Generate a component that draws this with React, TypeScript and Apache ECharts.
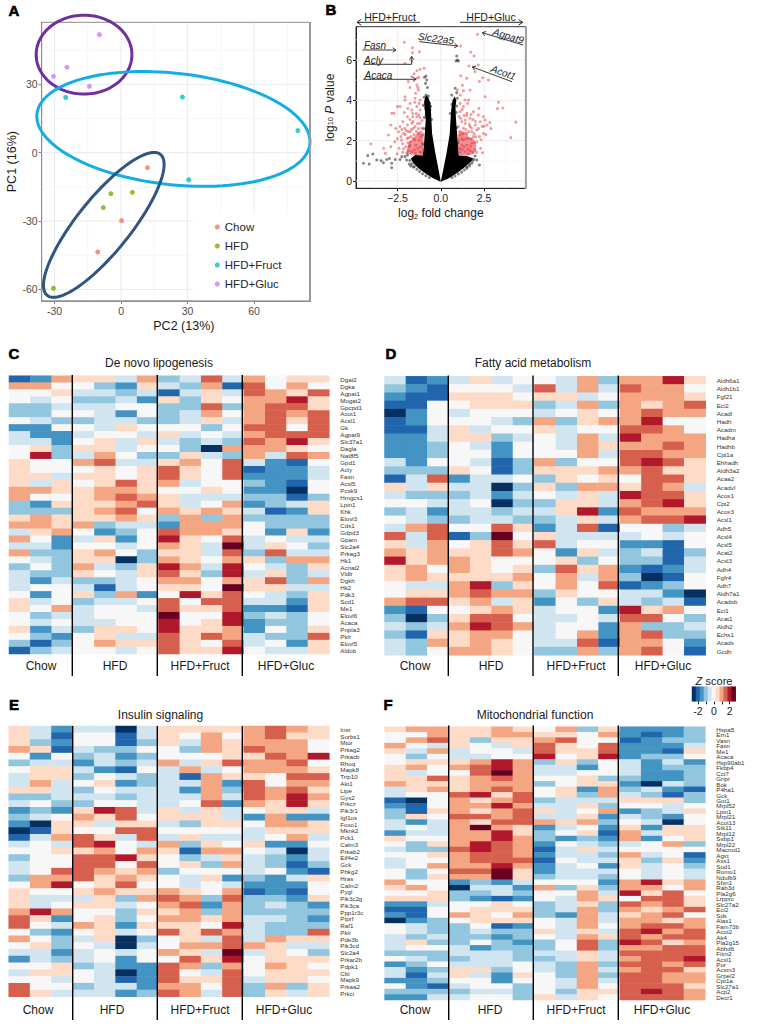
import React, { useEffect, useRef } from "react";
import * as echarts from "echarts";

const FONT = "'Liberation Sans', Arial, sans-serif";

// ---------- Panel A: PCA ----------
const pcaChow = [[11.9, -6.6], [0.2, -29.8], [-10.5, -43.6]];
const pcaHfd = [[-4.6, -18], [5.1, -17.4], [-8, -24.1], [-30.5, -59.5]];
const pcaFruct = [[-25, 24.2], [27.7, 24.4], [79.7, 9.7], [30.5, -11.9]];
const pcaGluc = [[-9.8, 51.8], [-24.4, 37.5], [-30.5, 33.5], [-14.3, 29.1]];
// cx, cy, rx, ry, correlation
const ellipsePurple = [-16.7, 43, 21.6, 17.3, 0];
const ellipseCyan = [23.6, 10.4, 61.6, 25.2, -0.22];
const ellipseNavy = [-7.8, -31.7, 27.2, 31.8, 0.834];
const pcaXTicks = [-30, 0, 30, 60];
const pcaYTicks = [-60, -30, 0, 30];
const pcaXMinor = [-15, 15, 45, 75];
const pcaYMinor = [-45, -15, 15, 45];

// ---------- Panel B: volcano ----------
const volcanoLeftArm = [[0, -0.03], [-0.42, 0.13], [-0.9, 0.38], [-1.29, 0.63], [-1.58, 0.88], [-1.73, 1.12], [-1.48, 1.29], [-1.04, 1.27], [-0.98, 1.7], [-0.92, 2.36], [-0.87, 3.02], [-0.92, 3.52], [-0.96, 3.95], [-0.86, 4.25], [-0.72, 4.15], [-0.6, 3.85], [-0.56, 3.36], [-0.5, 2.36], [-0.31, 1.37], [-0.12, 0.55]];
const volcanoRightArm = [[0, -0.03], [0.44, 0.13], [0.92, 0.38], [1.31, 0.63], [1.73, 0.96], [1.88, 1.12], [1.5, 1.24], [1.04, 1.27], [1.0, 1.7], [0.94, 2.36], [0.87, 3.19], [0.85, 3.69], [0.9, 4.0], [0.8, 4.2], [0.68, 4.0], [0.6, 3.5], [0.56, 3.0], [0.52, 2.36], [0.33, 1.37], [0.14, 0.55]];
const redPatchLeft = [[-1.98, 1.36], [-1.7, 1.3], [-1.35, 1.29], [-1.04, 1.27], [-1.0, 1.9], [-0.98, 2.35], [-1.15, 2.5], [-1.4, 2.35], [-1.6, 2.1], [-1.85, 1.9], [-1.95, 1.6]];
const redPatchRight = [[1.04, 1.27], [1.4, 1.26], [1.75, 1.3], [2.0, 1.42], [2.05, 1.8], [1.9, 2.1], [1.65, 2.15], [1.45, 2.4], [1.15, 2.5], [0.98, 2.3], [1.0, 1.7]];
const volcanoBlack = [[-0.85, 5.21], [-0.94, 5.14], [-0.81, 5.01], [-0.88, 4.84], [-0.77, 4.64], [-0.85, 4.26], [-0.71, 4.21], [-0.96, 4.15], [-0.77, 4.02], [-0.65, 3.85], [-0.9, 3.85], [-0.62, 3.52], [-0.88, 3.6], [-0.85, 3.27], [-4.46, 0.88], [-4.13, 0.84], [-4.21, 1.26], [-3.92, 1.34], [-3.69, 1.04], [-3.44, 1.01], [-3.31, 0.91], [-3.12, 1.07], [-2.96, 1.12], [-2.83, 0.66], [-2.83, 0.88], [-2.63, 1.07], [-2.35, 1.07], [-2.25, 1.21], [-2.06, 1.21], [-1.96, 1.04], [-1.81, 0.84], [-1.92, 1.29], [-1.73, 0.74], [-1.58, 0.68], [0.92, 6.2], [0.96, 6.0], [1.02, 5.95], [0.88, 5.95], [0.83, 4.6], [0.63, 4.26], [0.92, 4.38], [0.96, 4.1], [0.77, 3.82], [0.92, 3.72], [0.69, 3.52], [1.92, 1.07], [2.08, 1.04], [2.23, 0.79], [1.79, 0.88], [1.65, 0.74], [1.5, 0.63], [1.98, 1.24], [-1.78, 1.02], [-1.66, 0.85], [-1.52, 0.72], [-1.38, 0.58], [-1.22, 0.47], [-1.05, 0.36], [-0.86, 0.26], [-0.66, 0.17], [1.82, 1.0], [1.66, 0.83], [1.5, 0.7], [1.36, 0.55], [1.2, 0.44], [1.02, 0.35], [0.82, 0.25], [0.64, 0.17], [-1.02, 1.82], [-0.98, 2.6], [-0.95, 3.15], [-1.0, 3.75], [-0.53, 3.05], [-0.58, 3.7], [0.98, 1.9], [0.93, 2.65], [0.9, 3.4], [0.55, 3.35], [0.64, 3.8]];
const volcanoRedLeft = [[-2.1, 6.88], [-1.63, 6.61], [-1.23, 6.41], [-1.63, 6.36], [-2.06, 5.83], [-1.67, 5.95], [-1.19, 5.54], [-0.96, 5.59], [-1.27, 5.14], [-1.38, 5.47], [-1.38, 5.09], [-1.54, 5.31], [-1.67, 5.17], [-1.87, 4.93], [-1.38, 4.76], [-1.33, 4.64], [-1.29, 4.51], [-1.77, 4.64], [-2.06, 4.18], [-2.06, 4.02], [-1.19, 4.02], [-1.48, 4.1], [-1.77, 3.85], [-2.35, 3.69], [-2.5, 3.69], [-2.69, 3.36], [-2.83, 3.36], [-1.67, 3.52], [-1.38, 3.69], [-1.19, 3.52], [-1.92, 3.19], [-1.62, 3.19], [-1.38, 3.19], [-1.27, 3.27], [-2.19, 2.94], [-1.67, 2.86], [-1.19, 2.86], [-2.88, 2.78], [-2.35, 2.7], [-1.92, 2.78], [-1.48, 2.7], [-1.1, 2.62], [-3.02, 2.28], [-2.44, 2.44], [-2.15, 2.36], [-1.77, 2.44], [-1.29, 2.36], [-1.04, 2.28], [-4.04, 1.84], [-2.65, 1.95], [-2.27, 2.03], [-1.94, 2.11], [-1.6, 2.11], [-1.25, 2.03], [-3.29, 1.62], [-2.88, 1.7], [-2.4, 1.62], [-2.02, 1.7], [-1.77, 1.79], [-1.44, 1.79], [-1.15, 1.7], [-3.19, 1.37], [-2.52, 1.35], [-2.19, 1.42], [-1.85, 1.5], [-1.52, 1.55], [-1.21, 1.45], [-2.0, 2.5], [-1.7, 2.55], [-1.55, 2.3], [-2.2, 1.85], [-1.9, 1.9], [-2.6, 2.6], [-2.1, 3.4], [-1.5, 3.9], [-1.2, 3.15], [-1.45, 4.35], [-1.6, 2.95], [-1.75, 1.95], [-1.4, 2.45], [-2.3, 2.2], [-1.85, 2.15], [-2.15, 1.6], [-2.05, 2.3], [-1.96, 1.4], [-1.88, 2.45], [-1.82, 1.7], [-1.72, 2.2], [-1.66, 1.45], [-1.58, 2.62], [-1.5, 2.05], [-1.46, 1.38], [-1.34, 2.85], [-1.32, 1.62], [-1.3, 2.6], [-1.16, 2.2], [-1.12, 1.4], [-1.08, 3.0], [-2.08, 2.62], [-2.25, 2.55], [-2.5, 2.1], [-1.62, 3.35], [-1.78, 3.05], [-1.9, 3.6], [-1.42, 3.35], [-1.25, 3.85], [-1.02, 1.55], [-1.08, 1.9]];
const volcanoRedRight = [[2.12, 7.27], [1.15, 6.69], [1.73, 6.38], [1.92, 6.2], [1.63, 5.7], [2.17, 5.75], [1.98, 5.42], [1.15, 5.22], [1.5, 5.09], [2.75, 5.01], [2.42, 5.12], [2.23, 4.93], [0.96, 4.51], [1.69, 4.51], [1.31, 4.48], [1.12, 4.26], [2.56, 4.18], [1.4, 4.02], [1.6, 4.02], [1.12, 3.85], [1.31, 3.69], [3.33, 3.9], [3.58, 3.62], [3.27, 3.59], [1.88, 3.44], [1.5, 3.36], [1.12, 3.44], [2.17, 3.27], [2.46, 3.19], [1.69, 3.11], [1.4, 3.02], [1.21, 2.94], [4.33, 2.92], [2.83, 2.9], [2.56, 3.02], [2.27, 2.94], [1.98, 2.78], [1.69, 2.7], [1.31, 2.62], [1.02, 2.7], [2.67, 2.78], [2.38, 2.7], [2.08, 2.53], [1.79, 2.44], [1.5, 2.36], [1.12, 2.28], [4.04, 2.15], [2.46, 2.36], [2.23, 2.2], [1.88, 2.2], [1.6, 2.11], [1.31, 2.03], [1.02, 2.03], [2.08, 1.95], [1.79, 1.87], [1.5, 1.79], [1.21, 1.79], [2.3, 1.62], [1.98, 1.55], [1.7, 1.5], [1.4, 1.45], [1.12, 1.42], [2.4, 1.4], [2.6, 2.3], [2.9, 2.6], [1.85, 3.05], [1.55, 3.85], [1.25, 4.75], [1.75, 2.1], [1.45, 2.55], [2.0, 2.95], [1.35, 3.25], [1.6, 1.35], [2.2, 3.6], [1.95, 1.9], [1.65, 2.8], [1.25, 1.55], [1.15, 3.1], [2.08, 1.42], [1.92, 2.35], [1.84, 1.42], [1.78, 2.62], [1.72, 1.72], [1.62, 2.45], [1.56, 1.58], [1.46, 2.1], [1.42, 2.85], [1.34, 1.7], [1.28, 2.35], [1.2, 2.1], [1.12, 1.6], [1.06, 3.2], [1.02, 1.62], [2.18, 2.6], [2.02, 2.2], [2.32, 2.05], [2.5, 2.72], [1.75, 3.3], [1.24, 3.55], [1.5, 3.25], [1.08, 2.45]];
const volcanoXTicks = [-2.5, 0, 2.5];
const volcanoYTicks = [0, 2, 4, 6];
const volcanoXMinor = [-3.75, -1.25, 1.25, 3.75];
const volcanoYMinor = [1, 3, 5, 7];

// ---------- Heat maps (z score bins, 1 bin = 0.5) ----------
const zLevels = [-5, -4, -3, -2, -1, 0, 1, 2, 3, 4, 5];
const zColors = ["#053061", "#2166ac", "#4393c3", "#92c5de", "#d1e5f0", "#f7f7f7", "#fddbc7", "#f4a582", "#d6604d", "#b2182b", "#67001f"];
const sampleColumns = ["Chow1", "Chow2", "Chow3", "HFD1", "HFD2", "HFD3", "HFD4", "Fruct1", "Fruct2", "Fruct3", "Fruct4", "Gluc1", "Gluc2", "Gluc3", "Gluc4"];

const genesC = ["Dgat2", "Dgka", "Agpat1", "Mogat2", "Gpcpd1", "Acot1", "Acsl1", "Gk", "Agpat9", "Slc37a1", "Dagla", "Nat8f5", "Gpd1", "Acly", "Fasn", "Acsl5", "Pcsk9", "Hmgcs1", "Lpin1", "Khk", "Elovl3", "Cds1", "Gdpd3", "Gpam", "Slc2a4", "Prkag3", "Hk1", "Acnat2", "Vldlr", "Dgkh", "Hk2", "Pdk3", "Scd1", "Me1", "Elovl6", "Acaca", "Pnpla3", "Pklr", "Elovl5", "Aldob"];
const lipogenesis = [
  [-4, -3, 2, 1, 1, -1, 2, -2, -1, 3, -1, 2, 0, 1, 1],
  [2, 2, 0, 0, -2, -3, 1, -1, -2, 2, -4, 3, 0, 2, 0],
  [0, 0, 1, -1, -1, -2, -1, -4, -1, 1, -1, 3, 2, 1, 3],
  [0, -1, 0, -2, -2, -1, -3, 1, -2, 1, 0, 2, 2, 4, 1],
  [-2, -2, -1, -1, -1, 0, 0, -2, -2, 3, -2, 2, 3, 3, 1],
  [-2, -2, 0, 0, -1, -3, 0, -2, -1, 2, 0, 2, 3, 2, 3],
  [0, -1, -2, -2, -1, -1, -2, -2, -1, 1, -1, 2, 3, 1, 3],
  [-3, -3, 0, 0, -1, 1, 0, 0, 0, -2, 0, 3, 3, 0, 3],
  [-1, -3, -3, -1, 0, 0, -1, 1, -1, 0, -1, 2, 3, 3, 3],
  [-1, -1, -3, 0, 1, -1, 1, -1, -2, -1, -2, 3, 2, 4, 1],
  [0, 1, -2, 1, 1, -1, 0, 0, -2, -5, 2, 2, 2, 1, 0],
  [0, 4, -2, -1, 2, 0, -2, -2, 1, -1, -2, 2, -1, 3, 2],
  [1, 0, 0, 2, 3, -1, -1, 1, 2, 0, 3, -1, -3, -4, 0],
  [1, 0, 0, 0, 1, 0, 1, 3, 1, 0, 3, -4, -3, -3, -1],
  [1, 1, -1, 1, 1, 0, 1, 3, 1, 0, 3, -3, -3, -3, -1],
  [1, -1, 1, 0, 1, 3, 1, 2, -1, 0, 0, -2, -3, -4, 0],
  [2, 2, 1, 1, 2, 2, 1, 0, 0, 1, 0, -3, -3, -5, 0],
  [2, 0, 0, 1, 2, 3, 2, 1, -1, -1, -1, -2, -2, -4, -2],
  [-2, -3, 1, 1, 1, 2, 3, 1, -1, 0, 2, -3, -2, -1, 1],
  [-2, -2, -2, 1, 2, 3, 0, 2, 1, 2, 1, -1, -4, -3, 1],
  [1, 2, 1, 1, 1, 2, 1, -2, 2, -2, 2, -2, -2, -2, -2],
  [2, 2, 1, 2, -2, -1, -1, -3, 2, 2, 2, 0, -2, -2, -2],
  [-1, 1, 2, 0, -3, -2, 0, 3, 2, 2, 1, 0, -3, 1, -3],
  [2, 0, -3, -1, 1, -3, 0, 4, 1, 0, 3, -1, 0, -1, -1],
  [-1, -1, -3, 0, 0, -1, 0, 2, 1, -1, 5, -1, 1, 0, -2],
  [2, -2, -2, 1, 2, 0, -2, 1, 1, -1, 3, -2, 3, -1, -1],
  [0, -1, -2, 1, 1, -5, -2, 2, 1, 0, 2, 1, -2, 2, 2],
  [-2, 0, -2, 2, -1, -2, 1, 4, 2, -1, 4, 0, -1, -2, 1],
  [-1, -2, -2, 1, 0, -1, 1, 3, 1, -2, 4, -1, 1, -2, -1],
  [-1, -3, -1, -2, -2, -1, 0, 2, 2, 0, 2, 1, 3, -2, 2],
  [-1, 0, 0, -1, -4, -1, 0, 1, 1, 0, 5, 1, 1, -1, -1],
  [0, -3, 0, 1, -2, 2, -3, 0, 4, 1, 3, 0, -1, -2, 1],
  [1, -1, 0, -2, -1, -1, 0, 3, 0, 3, 3, -1, -1, -3, 1],
  [1, 0, 2, -1, 0, 0, -1, 3, 1, 1, 3, -3, -3, -4, 1],
  [0, -2, -1, -1, 0, 0, 0, 5, 0, 0, 4, -2, -1, -2, 0],
  [0, -1, 0, -1, -1, 0, 0, 4, 0, 1, 4, -3, -2, -2, 0],
  [1, -3, -1, -2, 1, 1, 0, 4, 1, 1, 2, -3, 0, -2, 1],
  [0, -2, -3, 0, 1, -1, -1, 3, 1, 3, 2, -1, -2, -2, 3],
  [-2, -4, -2, 0, 2, 1, 1, 3, 1, 0, 3, -1, 0, -3, 1],
  [-4, -2, -1, 0, 0, -1, 0, 3, 1, 1, 4, 0, -1, -1, 1],
];

const genesD = ["Aldh6a1", "Aldh1b1", "Fgf21", "Eci2", "Acadl", "Hadh", "Acadm", "Hadha", "Hadhb", "Cpt1a", "Ehhadh", "Aldh3a2", "Acaa2", "Acadvl", "Acox1", "Cpt2", "Acox3", "Acsl1", "Adh5", "Acsl4", "Acsl5", "Acat2", "Acsl3", "Adh4", "Fgfr4", "Adh7", "Aldh7a1", "Acadsb", "Eci1", "Acat1", "Aldh2", "Echs1", "Acads", "Gcdh"];
const fattyAcid = [
  [-1, -4, -3, -1, 1, -1, 0, 0, -1, 2, -2, 2, 2, 4, 1],
  [-2, -3, -4, 0, 0, 0, -1, 3, -1, 2, -1, 3, 2, 2, 0],
  [-3, -4, -4, 1, 1, 1, 0, 1, 1, -1, 0, 2, 2, 2, 1],
  [-4, -4, 0, 0, 1, 1, 1, -2, -1, 2, -2, 2, 1, 2, 3],
  [-5, -3, 0, -1, 0, 0, 0, -1, 0, 1, 0, 2, 3, 2, 2],
  [-4, -3, 0, 0, 0, -1, -2, 2, -2, 1, 2, 2, 4, 0, 0],
  [-4, -4, -1, 1, -1, 0, 0, 1, -1, 0, 0, 3, 3, 2, 0],
  [-3, -3, -1, 1, 1, -2, -1, 0, -1, 2, -1, 4, 2, 2, 2],
  [-3, -3, -2, 0, -1, -3, 0, 0, -1, 2, 1, 2, 2, 3, 2],
  [-3, -3, -2, 0, 0, -3, 0, 0, 0, 2, -1, 3, 3, 2, 2],
  [-1, -3, 0, 0, -1, -4, -2, 2, -2, 0, 0, 3, 4, 3, 1],
  [-2, -2, -2, 1, 0, -4, -2, 1, 1, 1, 2, 2, 3, 1, 1],
  [-4, -1, 3, -3, -1, -1, 0, -2, 1, 0, 1, 0, 3, 3, 1],
  [1, -1, 1, -1, -1, -5, -2, 1, -2, 2, 2, 1, 3, 2, -1],
  [-1, -2, -2, -2, -1, -3, -1, 0, -1, 1, -1, 4, 3, 3, 1],
  [0, 0, -1, -1, 0, -5, -2, -2, 1, 1, -1, 2, 3, 4, 1],
  [-2, -1, -3, -1, -1, -2, -1, -1, 1, 4, -3, 3, 2, 2, 2],
  [0, -1, -2, -2, -1, -1, -2, -2, -1, 1, -1, 2, 3, 3, 4],
  [-1, 2, 3, 0, 0, 3, 1, -3, -1, 3, -4, 0, 0, -2, -1],
  [3, -1, 3, -4, -2, 5, 0, 1, -1, -1, -1, -1, 0, -1, 0],
  [1, -1, 2, 0, 1, 3, 1, 3, -1, 0, 0, -3, -3, -4, 0],
  [2, 1, 2, 1, 1, 3, 2, 0, -3, 1, -1, -2, -1, -4, -2],
  [4, 1, 2, 2, 1, 0, 0, 0, 1, -2, 0, -2, -2, -4, -1],
  [1, 2, 0, 2, 1, 0, 1, -2, 3, 1, 2, -3, -4, -3, -1],
  [1, 2, 1, 1, 1, 1, 2, 0, 2, -1, 2, -2, -5, -4, 0],
  [0, -1, -1, 2, 4, -2, 1, 0, 2, 0, 3, -4, -3, -2, 0],
  [0, 1, 1, 2, 3, 2, 2, -2, 1, 0, 0, -1, -1, -3, -5],
  [2, 3, 3, 1, 2, -1, 1, -3, 0, -2, 1, -1, -2, -1, -4],
  [-3, -4, 0, 0, 1, 2, 1, -1, 0, 0, -3, 4, 1, 2, 0],
  [-2, -5, -2, 1, 3, 3, 0, -1, -1, 0, -1, 3, 3, 0, -2],
  [-1, -2, -1, 2, 4, 3, 2, -1, 0, 0, -3, 2, -2, -2, -1],
  [-2, -4, 1, 1, 2, 2, 0, -1, 0, 2, -3, 2, 3, -2, -2],
  [-1, -2, 2, 1, 2, 1, 0, -1, -1, 3, -4, 2, 2, 0, -3],
  [-1, -2, 0, 2, 2, 1, 0, -2, -2, 2, -2, 2, 3, 0, -4],
];

const genesE = ["Insr", "Sorbs1", "Mtor", "Prkag2", "Prkacb", "Rhoq", "Mapk8", "Trip10", "Akt1", "Lipe", "Gys2", "Prkcz", "Pik3r1", "Igf1os", "Foxo1", "Mknk2", "Pck1", "Calm3", "Prkab2", "Eif4e2", "Gck", "Phkg2", "Hras", "Calm2", "Pygl", "Pik3c2g", "Pik3ca", "Ppp1r3c", "Ptprf", "Raf1", "Pklr", "Pde3b", "Pik3cd", "Slc2a4", "Prkar2b", "Pdpk1", "Cbl", "Mapk9", "Prkaa2", "Prkci"];
const insulin = [
  [1, -1, -3, -1, -1, -5, -1, 1, 1, 1, 1, 2, 3, 2, 1],
  [1, -1, -4, 0, 0, -4, -1, 1, 0, 2, 0, 2, 3, 1, 1],
  [1, -2, -3, 0, 0, -4, -2, 1, -1, 2, 1, 2, 2, 2, 0],
  [2, 1, -4, -1, -2, -2, 0, 0, -2, 2, 1, 3, 2, 2, 0],
  [0, -3, 0, -2, -1, -3, -2, 0, 0, 0, 1, 1, 3, 2, 4],
  [-2, -1, -1, -3, -1, -2, -1, 2, -1, 1, 3, 2, 2, 3, 0],
  [0, 1, 1, -1, -3, -4, 0, -1, 2, -1, 0, 2, 2, 2, 1],
  [-1, 1, 1, -2, 0, -1, -2, -1, -4, 2, 1, 1, 0, 3, 3],
  [-1, 2, -1, 0, 1, -3, -2, -1, -1, 2, -3, 3, 0, 2, 2],
  [1, 1, -1, -2, 0, -1, -1, -1, -3, 2, -2, 3, 2, 3, 1],
  [-2, -2, -1, -1, -1, -2, -1, -1, -1, 2, -1, 3, 2, 4, 2],
  [-1, 0, -2, -2, 0, 0, -1, -1, 0, 3, -3, 2, 1, 4, 1],
  [-3, -2, -3, 1, 4, 3, -1, 1, -1, 1, -1, 0, 1, 1, -1],
  [-2, -1, 0, 2, 1, 3, 0, 1, 1, 1, -1, -3, 2, -3, -3],
  [-3, -5, 1, 1, -1, 1, 1, -1, -2, 1, 1, 0, 2, 2, 1],
  [-5, -4, 1, 0, 0, 3, 3, 0, 0, 0, 0, -1, 1, 1, 1],
  [-4, -1, 2, 3, 1, -1, 3, -1, 1, -1, -1, -1, 0, 2, -1],
  [-1, 0, -1, 3, 4, 0, -1, 2, -2, 1, 0, 1, -3, -3, 0],
  [0, 0, 1, 1, 2, 0, 2, 1, -4, 2, 2, 0, -1, -5, -1],
  [-2, 0, 0, 3, 3, 4, 1, 0, -2, -1, 1, -1, -2, -3, -1],
  [-1, 0, 0, 3, 3, 0, 3, 0, 1, -2, 2, -1, -2, -4, -2],
  [-1, 0, 3, 3, 2, 1, 2, -2, 0, 0, 0, -1, 0, -3, -4],
  [-2, 2, 2, 3, 1, 2, 1, 0, -1, 1, -3, -2, -3, -1, 1],
  [0, 2, 4, 0, 1, 3, 0, 0, -1, 0, -1, -3, -3, -3, 0],
  [1, 0, 0, 1, 2, 1, 1, 2, 1, 0, 2, -4, -3, -4, 0],
  [1, -1, -1, -1, 1, -2, 2, 3, 2, -2, 3, -2, -2, -3, 1],
  [1, -1, 0, 1, 1, -1, 0, 2, 3, -3, 2, -2, -1, -2, -3],
  [2, 4, 2, 0, 0, -2, 1, 1, 2, -2, 2, -2, -2, -2, -2],
  [3, 1, -3, 0, 1, -2, 0, 2, 2, 1, 2, -1, -1, -2, -3],
  [3, 0, -1, 2, 1, -3, 1, 1, 1, 0, 4, -1, -2, -2, -2],
  [0, -2, -3, 0, 1, -1, 0, 3, 1, 3, 2, -1, -2, -2, 3],
  [2, 0, -2, -1, 1, -5, -2, 0, 1, -1, 3, -1, 2, 1, 1],
  [0, 1, -2, 0, -1, -5, -1, 0, 2, 2, 3, 2, 1, -1, -1],
  [-1, -1, -3, -1, 0, -1, 0, 2, 1, -1, 5, -1, 1, 0, -2],
  [-3, -1, -2, -1, 0, -3, 0, 0, 3, 1, 4, 0, 1, 1, 1],
  [0, 0, 1, -2, -1, -3, -3, 3, 2, -2, 2, 0, 2, 1, 0],
  [-1, 1, 1, 0, -1, -5, -3, 3, 0, -1, 3, 0, 1, 1, 1],
  [0, 0, -1, 0, -1, -4, -3, 3, 1, 1, 3, -1, 1, 1, 0],
  [3, 0, 0, -2, -1, -1, -3, 2, 2, 0, 3, -2, 2, -2, 1],
  [3, 1, -1, -1, -1, -3, -2, 3, 2, -1, 3, -2, 1, -1, 1],
];

const genesF = ["Hspa5", "Ern1", "Vasn", "Fasn", "Me1", "Acaca", "Hsp90ab1", "Fkbp4", "Cct7", "Gripr", "Bok", "P4ha1", "Gck", "Got1", "Mrpl52", "Lpin1", "Mrpl21", "Acot13", "Stk11", "Mrpl12", "Ssbp1", "Mrpl22", "Macrod1", "Agxt", "Ass1", "Sod1", "Romo1", "Ndufb9", "Sfxn1", "Rab3d", "Pla2g6", "Lrpprc", "Slc27a2", "Eci2", "Sds", "Alas1", "Fam73b", "Acot2", "Ak4", "Pla2g15", "Abhd6", "Fitm2", "Acsl1", "Por", "Acsm3", "Grpel2", "Cpt1a", "Slc27a1", "Acp2", "Decr1"];
const mitochondrial = [
  [1, 2, 2, 1, 1, 2, 1, 0, 2, -2, 1, -3, -3, -3, -2],
  [0, 0, 2, 1, 1, 2, 2, 1, 1, 0, 2, -3, -4, -3, -2],
  [0, 2, 3, 1, -2, 1, 1, 2, 3, 0, 0, -4, -3, -2, -2],
  [2, 0, -1, 1, 0, -1, 1, 3, 1, 0, 3, -3, -3, -3, -1],
  [1, -1, 2, -1, 0, 0, -1, 3, 1, 1, 3, -3, -3, -4, 1],
  [0, -2, 0, -1, -1, 0, 0, 4, 0, 1, 4, -3, -2, -2, 0],
  [0, 1, 1, 1, 2, 4, 2, -2, 1, -2, 0, -1, -3, -1, -3],
  [1, 2, 0, 2, 3, 4, 2, -1, -1, -3, 0, -1, -3, -2, -2],
  [1, -1, 0, 0, 3, 5, 2, -1, -1, 0, 0, -1, -3, -3, -2],
  [1, 1, 3, 1, 2, 3, 2, 0, 0, 1, -2, -2, -3, -3, -2],
  [2, 1, 1, 1, 2, 2, 2, -2, 0, 1, 1, -3, -5, -1, -2],
  [-1, 1, 2, 1, 2, 3, 2, 0, 1, -3, 2, -2, -1, -3, -4],
  [-1, 0, 0, 3, 4, 1, 3, 0, 1, -2, 2, -1, -2, -4, -2],
  [-4, -5, 0, 2, 1, 2, 3, -2, -1, -1, -1, 1, 1, 1, -2],
  [-3, -4, 0, 2, 2, 4, 2, -1, -1, 1, -2, 0, 0, -1, 0],
  [-2, -4, 1, 2, 1, 2, 3, 1, -1, 0, 2, -3, -2, -1, 1],
  [-2, 1, 0, 3, 3, 2, 3, -1, -1, 1, -3, -1, -2, -3, 0],
  [-1, -3, -1, 2, 1, 3, 3, 2, 1, 2, -2, 0, -1, -5, 0],
  [-1, 0, -1, 2, 5, 2, 1, -3, -1, 0, -3, 1, -3, 1, 1],
  [-3, -1, -1, 2, 2, 4, 1, -2, 0, 1, -4, 2, -1, 1, 1],
  [1, 0, 0, 2, 2, 4, 2, -2, -3, -2, -3, 2, -3, 0, 1],
  [0, -2, 1, 2, 4, 3, 2, -3, 0, -1, -2, -1, 0, 2, -2],
  [-1, -2, -2, 3, 4, 3, 2, -4, -1, 1, -1, 0, 0, 0, 0],
  [0, 0, 1, 2, 3, 3, 2, -3, -1, -1, -2, 2, -1, 0, -4],
  [-1, 0, 0, 2, 3, 3, 3, -4, 0, -1, -1, 1, -2, 1, -3],
  [-1, 0, 2, 2, 2, 4, 2, -3, -1, 0, -3, 1, -1, 0, -2],
  [0, -2, 0, 3, 3, 5, 1, -3, -1, -1, -1, 0, -1, 0, -1],
  [0, -2, 1, 2, 2, 5, 1, -2, -1, -1, -2, 0, -1, 0, -1],
  [2, 0, 0, -3, -2, -3, -1, 0, 0, 0, -3, 2, 4, 1, 2],
  [1, 2, 0, -5, -1, -1, -3, 2, -2, 1, -2, 2, 2, 0, 2],
  [0, 0, 1, -2, -2, -1, -2, 0, 0, 2, -1, 4, 1, 3, 0],
  [1, 1, 1, -2, -3, -4, -3, 0, -1, 2, 1, 0, 3, 3, 1],
  [-3, -3, -1, 0, 0, 1, 0, -2, -1, 1, -2, 3, 2, 3, 1],
  [-4, -4, 0, 0, 1, 1, 1, -2, -1, 2, -2, 2, 1, 2, 3],
  [-3, -4, 0, 2, 1, 0, 2, -2, -3, 2, -1, 1, 2, 3, 0],
  [-5, -3, -2, 0, 1, 1, 1, 0, -1, 2, -1, 2, 2, 1, 2],
  [0, -1, -2, -2, 0, -4, -3, 0, -1, 2, 0, 2, 3, 3, 2],
  [0, -1, -2, -2, -1, -2, -2, 1, -1, 1, -1, 3, 4, 2, 3],
  [-1, -2, -1, -2, -2, -3, -2, 0, -1, 2, 1, 3, 2, 3, 3],
  [-1, 1, -2, -2, 0, -2, -3, -2, 0, 3, -2, 4, 3, 1, 2],
  [-1, 0, 0, -1, -3, -2, -2, -2, 0, 3, -2, 2, 2, 3, 3],
  [-2, -2, -2, -1, -1, -1, -2, -1, -1, 1, -1, 3, 3, 3, 3],
  [0, -1, -2, -2, -1, -1, -2, -2, -1, 1, -1, 2, 3, 3, 4],
  [-3, -2, 0, -1, -1, -1, 0, -1, -2, 2, -2, 3, 3, 2, 3],
  [-1, -3, -2, 1, 1, -2, 0, -1, -2, 2, -1, 2, 3, 3, 1],
  [-1, -4, -1, 1, -1, -3, 1, 0, -2, 2, -2, 3, 3, 2, 2],
  [-3, -3, -2, 0, 0, -3, 0, 0, -1, 2, -1, 3, 3, 2, 2],
  [0, -3, -4, -1, 0, 0, -2, 0, -1, 2, 0, 3, 3, 3, 1],
  [-2, -2, -2, -2, -1, -1, -2, 0, -2, 1, 1, 3, 4, 3, 2],
  [-3, -3, -1, -1, 0, 0, -2, 1, -1, 1, 0, 3, 3, 3, 2],
];

const groupNames = ["Chow", "HFD", "HFD+Fruct", "HFD+Gluc"];

const COL_CHOW = "#f8766d";
const COL_HFD = "#7cae00";
const COL_FRUCT = "#00bfc4";
const COL_GLUC = "#c77cff";
const RED = "rgba(228,38,48,0.58)";
const BLK = "rgba(0,0,0,0.6)";

function gridLines(gridIndex: number, xs: number[], ys: number[], color: string, width: number) {
  const data = [...xs.map((v) => [0, v]), ...ys.map((v) => [1, v])];
  return {
    type: "custom",
    xAxisIndex: gridIndex,
    yAxisIndex: gridIndex,
    z: 1,
    silent: true,
    clip: true,
    encode: { x: [], y: [] },
    data,
    renderItem: (params: any, api: any) => {
      const kind = api.value(0);
      const v = api.value(1);
      const c = params.coordSys;
      if (kind === 0) {
        const p = api.coord([v, 0]);
        return { type: "line", shape: { x1: p[0], y1: c.y, x2: p[0], y2: c.y + c.height }, style: { stroke: color, lineWidth: width } };
      }
      const p = api.coord([0, v]);
      return { type: "line", shape: { x1: c.x, y1: p[1], x2: c.x + c.width, y2: p[1] }, style: { stroke: color, lineWidth: width } };
    },
  };
}

function ellipseSeries(params5: number[], color: string) {
  return {
    type: "custom",
    xAxisIndex: 0,
    yAxisIndex: 0,
    z: 2,
    silent: true,
    clip: false,
    encode: { x: 0, y: 1 },
    data: [params5],
    renderItem: (_: any, api: any) => {
      const [cx, cy, rx, ry, r] = [0, 1, 2, 3, 4].map((i) => api.value(i));
      const pts: number[][] = [];
      for (let i = 0; i <= 120; i++) {
        const t = (i / 120) * Math.PI * 2;
        pts.push(api.coord([cx + rx * Math.cos(t), cy + ry * (r * Math.cos(t) + Math.sqrt(1 - r * r) * Math.sin(t))]));
      }
      return { type: "polyline", shape: { points: pts }, style: { stroke: color, lineWidth: 3, fill: "none" } };
    },
  };
}

function hullSeries(hull: number[][], fill: string, z: number) {
  return {
    type: "custom",
    xAxisIndex: 1,
    yAxisIndex: 1,
    z,
    silent: true,
    clip: true,
    encode: { x: 0, y: 1 },
    data: [hull[0]],
    renderItem: (_: any, api: any) => ({
      type: "polygon",
      shape: { points: hull.map((p) => api.coord(p)) },
      style: { fill },
    }),
  };
}

function scatter(name: string, data: number[][], color: string, grid: number, size: number, z: number) {
  return {
    type: "scatter",
    name,
    data,
    xAxisIndex: grid,
    yAxisIndex: grid,
    symbolSize: size,
    itemStyle: { color },
    z,
    silent: true,
  };
}

type Arrow = { from: number[]; to: number[]; via?: number[] };
function arrowEls(a: Arrow, color = "#222", w = 1, head = 5) {
  const pts = a.via ? [a.from, a.via, a.to] : [a.from, a.to];
  const prev = pts[pts.length - 2];
  const ang = Math.atan2(a.to[1] - prev[1], a.to[0] - prev[0]);
  const p1 = [a.to[0] - head * Math.cos(ang - 0.6), a.to[1] - head * Math.sin(ang - 0.6)];
  const p2 = [a.to[0] - head * Math.cos(ang + 0.6), a.to[1] - head * Math.sin(ang + 0.6)];
  return [
    { type: "polyline", z: 100, silent: true, shape: { points: pts }, style: { stroke: color, lineWidth: w, fill: "none" } },
    { type: "polyline", z: 100, silent: true, shape: { points: [p1, a.to, p2] }, style: { stroke: color, lineWidth: w, fill: "none" } },
  ];
}

function label(text: string, x: number, y: number, size: number, extra: any = {}, rotation = 0) {
  return {
    type: "text",
    z: 100,
    silent: true,
    x,
    y,
    rotation,
    style: {
      text,
      fill: "#1a1a1a",
      fontFamily: FONT,
      fontSize: size,
      textAlign: "center",
      textVerticalAlign: "middle",
      ...extra,
    },
  };
}

function vline(x: number, y1: number, y2: number, color = "#000", width = 1.4) {
  return { type: "line", z: 100, silent: true, shape: { x1: x, y1, x2: x, y2 }, style: { stroke: color, lineWidth: width } };
}
function hline(y: number, x1: number, x2: number, color: string, width: number) {
  return { type: "line", z: 100, silent: true, shape: { x1, y1: y, x2, y2: y }, style: { stroke: color, lineWidth: width } };
}

type Panel = { rows: number[][]; genes: string[]; left: number; right: number; top: number; bottom: number };
const panels: Panel[] = [
  { rows: lipogenesis, genes: genesC, left: 9, right: 329.3, top: 375.7, bottom: 654 },
  { rows: fattyAcid, genes: genesD, left: 384.5, right: 705.7, top: 376.3, bottom: 655.3 },
  { rows: insulin, genes: genesE, left: 8.7, right: 329.3, top: 726, bottom: 996.7 },
  { rows: mitochondrial, genes: genesF, left: 384.6, right: 705.3, top: 726.7, bottom: 1000 },
];

const letterStyle = { fontWeight: "bold", fill: "#000", stroke: "#000", lineWidth: 0.6 };

function buildOption() {
  const grids: any[] = [
    { left: 41.7, top: 22.3, width: 268.3, height: 278.7, show: true, borderColor: "#8a8a8a", borderWidth: 1, backgroundColor: "#fff" },
    { left: 356, top: 26.7, width: 169.7, height: 161.6, show: true, borderColor: "#333", borderWidth: 1, backgroundColor: "#fff" },
  ];
  const axisFontA = { color: "#4d4d4d", fontFamily: FONT, fontSize: 10.5 };
  const nameFont = { color: "#1a1a1a", fontFamily: FONT, fontSize: 12.5 };
  const xAxes: any[] = [
    {
      gridIndex: 0, type: "value", min: -35.8, max: 85.2, name: "PC2 (13%)", nameLocation: "middle", nameGap: 18,
      nameTextStyle: { ...nameFont, padding: [0, 0, 0, 16] }, splitLine: { show: false },
      axisLine: { show: true, onZero: false, lineStyle: { color: "#8a8a8a" } },
      axisTick: { show: true, customValues: pcaXTicks, length: 3, lineStyle: { color: "#7f7f7f" } },
      axisLabel: { ...axisFontA, customValues: pcaXTicks, margin: 4 },
    },
    {
      gridIndex: 1, type: "value", min: -4.89, max: 4.9, name: "log{s|2} fold change", nameLocation: "middle", nameGap: 17,
      nameTextStyle: { ...nameFont, fontSize: 12, rich: { s: { fontFamily: FONT, fontSize: 7.5, color: "#1a1a1a", padding: [7, 0, 0, 0] } } },
      splitLine: { show: false },
      axisLine: { show: true, onZero: false, lineStyle: { color: "#222" } },
      axisTick: { show: true, customValues: volcanoXTicks, length: 3, lineStyle: { color: "#222" } },
      axisLabel: { color: "#222", fontFamily: FONT, fontSize: 10.5, customValues: volcanoXTicks, margin: 4, formatter: (v: number) => (v < 0 ? "−" : "") + Math.abs(v).toFixed(1) },
    },
  ];
  const yAxes: any[] = [
    {
      gridIndex: 0, type: "value", min: -65.1, max: 57.2, name: "PC1 (16%)", nameLocation: "middle", nameGap: 21,
      nameTextStyle: nameFont, splitLine: { show: false },
      axisLine: { show: true, onZero: false, lineStyle: { color: "#8a8a8a" } },
      axisTick: { show: true, customValues: pcaYTicks, length: 3, lineStyle: { color: "#7f7f7f" } },
      axisLabel: { ...axisFontA, customValues: pcaYTicks, margin: 4 },
    },
    {
      gridIndex: 1, type: "value", min: -0.36, max: 7.65, name: "log{s|10} {i|P} value", nameLocation: "middle", nameGap: 13,
      nameTextStyle: { ...nameFont, fontSize: 12, padding: [0, 0, 7, 0], rich: { s: { fontFamily: FONT, fontSize: 7.5, color: "#1a1a1a" }, i: { fontFamily: FONT, fontStyle: "italic", fontSize: 12, color: "#1a1a1a" } } },
      splitLine: { show: false },
      axisLine: { show: true, onZero: false, lineStyle: { color: "#222" } },
      axisTick: { show: true, customValues: volcanoYTicks, length: 3, lineStyle: { color: "#222" } },
      axisLabel: { color: "#222", fontFamily: FONT, fontSize: 10.5, customValues: volcanoYTicks, margin: 4 },
    },
  ];

  const series: any[] = [
    gridLines(0, pcaXMinor, pcaYMinor, "#f3f4f7", 0.7),
    gridLines(0, pcaXTicks, pcaYTicks, "#e7eaef", 1),
    // white panel behind the legend
    {
      type: "custom", xAxisIndex: 0, yAxisIndex: 0, z: 1.5, silent: true, clip: false,
      encode: { x: 0, y: 1 }, data: [[85.2, -65.1]],
      renderItem: () => ({ type: "rect", shape: { x: 193, y: 213, width: 116.5, height: 87.5 }, style: { fill: "#fff" } }),
    },
    ellipseSeries(ellipsePurple, "#6f2f9f"),
    ellipseSeries(ellipseCyan, "#14ade6"),
    ellipseSeries(ellipseNavy, "#2f5580"),
    scatter("Chow", pcaChow, COL_CHOW, 0, 5, 3),
    scatter("HFD", pcaHfd, COL_HFD, 0, 5, 3),
    scatter("HFD+Fruct", pcaFruct, COL_FRUCT, 0, 5, 3),
    scatter("HFD+Gluc", pcaGluc, COL_GLUC, 0, 5, 3),
    gridLines(1, volcanoXMinor, volcanoYMinor, "#f6f6f6", 0.7),
    gridLines(1, volcanoXTicks, volcanoYTicks, "#ececec", 1),
    hullSeries(volcanoLeftArm, "#000", 2),
    hullSeries(volcanoRightArm, "#000", 2),
    scatter("ns", volcanoBlack, BLK, 1, 3, 3),
    hullSeries(redPatchLeft, "rgba(228,38,48,0.5)", 3),
    hullSeries(redPatchRight, "rgba(228,38,48,0.5)", 3),
    scatter("upFruct", volcanoRedLeft, RED, 1, 3, 4),
    scatter("upGluc", volcanoRedRight, RED, 1, 3, 4),
  ];

  const heatIdx: number[] = [];
  panels.forEach((p, i) => {
    const g = 2 + i;
    grids.push({ left: p.left, top: p.top, width: p.right - p.left, height: p.bottom - p.top });
    xAxes.push({ gridIndex: g, type: "category", data: sampleColumns, show: false, splitLine: { show: false } });
    yAxes.push({
      gridIndex: g, type: "category", data: p.genes, inverse: true, position: "right",
      axisLine: { show: false }, axisTick: { show: false }, splitLine: { show: false },
      axisLabel: { interval: 0, fontFamily: FONT, fontSize: 6.2, color: "#333", margin: 11 },
    });
    const data: number[][] = [];
    p.rows.forEach((row, r) => row.forEach((v, c) => data.push([c, r, v])));
    heatIdx.push(series.length);
    series.push({
      type: "heatmap", xAxisIndex: g, yAxisIndex: g, data, silent: true, progressive: 0,
      itemStyle: { borderWidth: 0 }, emphasis: { disabled: true },
    });
  });

  // colour key
  grids.push({ left: 692, top: 686.7, width: 43.7, height: 14.6 });
  xAxes.push({
    gridIndex: 6, type: "category", data: zLevels.map(String), position: "bottom",
    axisLine: { show: false },
    axisTick: { show: true, alignWithLabel: true, interval: (i: number) => i % 2 === 1, length: 3, lineStyle: { color: "#111" } },
    axisLabel: { interval: (i: number) => i % 4 === 1, color: "#222", fontFamily: FONT, fontSize: 10.5, margin: 4, formatter: (v: string) => String(Number(v) / 2) },
    splitLine: { show: false },
  });
  yAxes.push({ gridIndex: 6, type: "category", data: ["z"], show: false, splitLine: { show: false } });
  heatIdx.push(series.length);
  series.push({
    type: "heatmap", xAxisIndex: 6, yAxisIndex: 6, silent: true, itemStyle: { borderWidth: 0 }, emphasis: { disabled: true },
    data: zLevels.map((l, i) => [i, 0, l]),
  });

  const annot = { fontStyle: "italic", fontSize: 10 };
  const elements: any[] = [
    label("A", 14, 10, 15, letterStyle),
    label("B", 331, 9, 15, letterStyle),
    label("C", 14, 353, 15, letterStyle),
    label("D", 391, 353, 15, letterStyle),
    label("E", 14, 704, 15, letterStyle),
    label("F", 388, 704, 15, letterStyle),
    // volcano annotations
    label("HFD+Fruct", 390, 17, 10.5),
    label("HFD+Gluc", 491, 17, 10.5),
    ...arrowEls({ from: [420, 22.3], to: [357, 22.3] }),
    ...arrowEls({ from: [460, 22.3], to: [522.7, 22.3] }),
    label("Fasn", 375, 45.5, 10, annot),
    ...arrowEls({ from: [362.3, 50], to: [396, 50] }, "#222", 0.9, 4),
    label("Acly", 373.5, 60, 10, annot),
    ...arrowEls({ from: [363.3, 64.3], via: [411.7, 64.3], to: [411.7, 56.5] }, "#222", 0.9, 4),
    label("Acaca", 378.5, 75, 10, annot),
    ...arrowEls({ from: [363.3, 79.3], to: [416, 79.3] }, "#222", 0.9, 4),
    label("Slc22a5", 436, 38.5, 10, annot, -0.12),
    ...arrowEls({ from: [419.3, 41.7], to: [457.7, 46] }, "#222", 0.9, 4),
    label("Agpat9", 508.5, 36, 10, annot, -0.29),
    ...arrowEls({ from: [523.3, 45], to: [482.3, 32.7] }, "#222", 0.9, 4),
    label("Acot1", 503.5, 72.5, 10, annot, -0.35),
    ...arrowEls({ from: [512, 81.7], to: [472.3, 67] }, "#222", 0.9, 4),
    // right edges of the two plots
    vline(310, 22, 302, "#9a9a9a", 2),
    hline(301.3, 41, 311, "#8f8f8f", 1.5),
    vline(525.9, 26.5, 189, "#a0a0a0", 2),
    // heat-map titles
    label("De novo lipogenesis", 159, 363, 12),
    label("Fatty acid metabolism", 533, 363, 12),
    label("Insulin signaling", 160.5, 714.5, 12),
    label("Mitochondrial function", 535, 714.5, 12),
    // group labels
    ...groupNames.map((g, i) => label(g, [41, 115, 200, 286][i], 665.5, 12)),
    ...groupNames.map((g, i) => label(g, [415, 491, 576, 663][i], 665.5, 12)),
    ...groupNames.map((g, i) => label(g, [38, 112, 200, 284][i], 1010, 12)),
    ...groupNames.map((g, i) => label(g, [415, 490, 576, 662][i], 1010, 12)),
    // group separators
    ...[72.3, 157.3, 242.3].map((x) => vline(x, 375, 676)),
    ...[448.3, 533, 618.3].map((x) => vline(x, 375.5, 676)),
    ...[72.7, 157.3, 242.3].map((x) => vline(x, 726, 1020)),
    ...[448.7, 533.3, 618.3].map((x) => vline(x, 725.5, 1020)),
    // colour key title
    {
      type: "text", z: 100, silent: true, x: 714, y: 681,
      style: {
        text: "{i|Z} {n|score}", textAlign: "center", textVerticalAlign: "middle",
        rich: {
          i: { fontFamily: FONT, fontStyle: "italic", fontSize: 11, fill: "#1a1a1a" },
          n: { fontFamily: FONT, fontSize: 11, fill: "#1a1a1a" },
        },
      },
    },
  ];

  return {
    animation: false,
    backgroundColor: "#fff",
    textStyle: { fontFamily: FONT },
    grid: grids,
    xAxis: xAxes,
    yAxis: yAxes,
    series,
    legend: {
      data: groupNames.map((n) => ({ name: n, icon: "circle" })),
      orient: "vertical",
      left: 209.8,
      top: 216,
      itemWidth: 5,
      itemHeight: 5,
      itemGap: 7,
      selectedMode: false,
      textStyle: { color: "#262626", fontFamily: FONT, fontSize: 11.5, padding: [0, 0, 0, 0] },
    },
    visualMap: {
      type: "piecewise",
      show: false,
      dimension: 2,
      seriesIndex: heatIdx,
      pieces: zLevels.map((l, i) => ({ value: l, color: zColors[i] })),
    },
    graphic: { z: 100, elements },
  };
}

export default function App() {
  const ref = useRef<HTMLDivElement | null>(null);
  useEffect(() => {
    document.body.style.margin = "0";
    const chart = echarts.init(ref.current as HTMLDivElement, undefined, { renderer: "svg" });
    chart.setOption(buildOption() as any);
    return () => chart.dispose();
  }, []);
  return <div ref={ref} style={{ width: 762, height: 1028 }} />;
}
